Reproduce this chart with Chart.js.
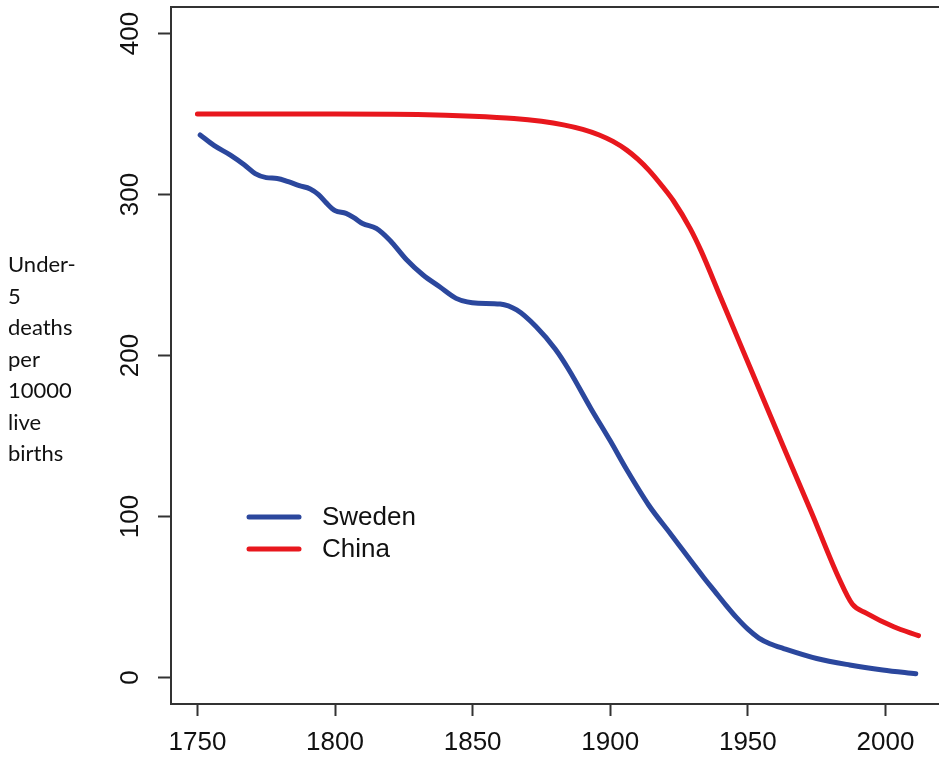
<!DOCTYPE html>
<html>
<head>
<meta charset="utf-8">
<script src="https://cdn.jsdelivr.net/npm/chart.js@4.4.1/dist/chart.umd.min.js"></script>
<style>
  html, body { margin: 0; padding: 0; background: #fff; overflow: hidden; }
  #wrap { width: 939px; height: 757px; overflow: hidden; position: relative; }
  canvas { display: block; }
</style>
</head>
<body>
<div id="wrap"><canvas id="c" width="960" height="757"></canvas></div>
<script>
// ---- data ----
const swedenYears = [1751,1756,1762,1767,1771,1775,1779,1783,1787,1791,1794,1797,1800,1804,1807,1810,1815,1820,1826,1832,1838,1844,1848,1852,1860,1866,1873,1880,1885,1893,1900,1906,1914,1922,1934,1938,1942,1946,1950,1954,1958,1963,1975,1987,1999,2011];
const swedenValues = [337,330.5,324.5,318.5,313,310.5,310,308,305.5,303.5,300,294.5,290,288.3,285.5,282,279,271.5,259.5,250,242.7,235.5,233.3,232.5,232,228.3,218,204,191,167,147,129,107,89,62,53.5,45,37,30,24.5,21,18,11.8,7.8,4.7,2.3];

const chinaYears = [1750,1800,1830,1850,1865,1875,1883,1890,1896,1901,1906,1910,1914,1919,1923,1929,1933,1940,1947,1956,1963,1973,1983,1988,1993,2003,2012];
const chinaValues = [350,350,349.7,348.7,347.3,345.5,343.3,340.5,337,333,327.6,322,315.2,305,296,279,265,236.5,208,171.5,143,103,62,45.5,40,31.5,26];

const xTicks = [1750,1800,1850,1900,1950,2000];
const yTicks = [0,100,200,300,400];
const seriesNames = ['Sweden','China'];
const yAxisLabelLines = ['Under-','5','deaths','per','10000','live','births'];

const BLUE = '#2b479d';
const RED = '#e8171d';
const AXIS = '#333333';

const toPoints = (xs, ys) => xs.map((x, i) => ({x: x, y: ys[i]}));

const framePlugin = {
  id: 'frame',
  afterDatasetsDraw(chart) {
    const {ctx, chartArea: a} = chart;
    ctx.save();
    ctx.strokeStyle = AXIS;
    ctx.lineWidth = 2;
    ctx.strokeRect(a.left, a.top, a.right - a.left, a.bottom - a.top);
    ctx.restore();
  }
};

const legendPlugin = {
  id: 'insideLegend',
  afterDraw(chart) {
    const ctx = chart.ctx;
    ctx.save();
    const rows = [517, 549];
    chart.data.datasets.forEach((ds, i) => {
      const y = rows[i];
      ctx.strokeStyle = ds.borderColor;
      ctx.lineWidth = 5;
      ctx.lineCap = 'round';
      ctx.beginPath();
      ctx.moveTo(249, y);
      ctx.lineTo(299, y);
      ctx.stroke();
      ctx.fillStyle = '#111';
      ctx.font = '26px "Liberation Sans", Arial, sans-serif';
      ctx.textBaseline = 'middle';
      ctx.textAlign = 'left';
      ctx.fillText(ds.label, 322, y + 1);
    });
    ctx.restore();
  }
};

const yTitlePlugin = {
  id: 'yTitle',
  afterDraw(chart) {
    const ctx = chart.ctx;
    ctx.save();
    ctx.fillStyle = '#111';
    ctx.font = '22px Lato, "Open Sans", sans-serif';
    ctx.textBaseline = 'alphabetic';
    ctx.textAlign = 'left';
    yAxisLabelLines.forEach((t, i) => {
      ctx.fillText(t, 8, 272 + i * 31.5);
    });
    ctx.restore();
  }
};

new Chart(document.getElementById('c'), {
  type: 'line',
  data: {
    datasets: [
      {
        label: seriesNames[0],
        data: toPoints(swedenYears, swedenValues),
        borderColor: BLUE,
        backgroundColor: BLUE,
        borderWidth: 5,
        pointRadius: 0,
        cubicInterpolationMode: 'monotone',
        borderCapStyle: 'round',
        borderJoinStyle: 'round',
        fill: false
      },
      {
        label: seriesNames[1],
        data: toPoints(chinaYears, chinaValues),
        borderColor: RED,
        backgroundColor: RED,
        borderWidth: 5,
        pointRadius: 0,
        cubicInterpolationMode: 'monotone',
        borderCapStyle: 'round',
        borderJoinStyle: 'round',
        fill: false
      }
    ]
  },
  options: {
    responsive: false,
    animation: false,
    devicePixelRatio: 1,
    layout: { padding: { top: 7, right: 17, left: 0, bottom: 0 } },
    plugins: {
      legend: { display: false },
      tooltip: { enabled: false },
      title: { display: false }
    },
    scales: {
      x: {
        type: 'linear',
        min: 1740.4,
        max: 2020.9,
        afterBuildTicks: (axis) => { axis.ticks = xTicks.map(v => ({value: v})); },
        afterFit: (axis) => { axis.height = 53; axis.paddingLeft = 0; axis.paddingRight = 0; },
        grid: { display: true, drawOnChartArea: false, drawTicks: true, tickLength: 12, tickColor: AXIS, tickWidth: 2 },
        border: { display: false },
        ticks: {
          autoSkip: false,
          maxRotation: 0,
          padding: 11,
          color: '#111',
          font: { family: '"Liberation Sans", Arial, sans-serif', size: 26 },
          callback: (v) => String(v)
        }
      },
      y: {
        type: 'linear',
        min: -16.46,
        max: 416.5,
        afterBuildTicks: (axis) => { axis.ticks = yTicks.map(v => ({value: v})); },
        afterFit: (axis) => { axis.width = 171; axis.paddingTop = 0; axis.paddingBottom = 0; },
        grid: { display: true, drawOnChartArea: false, drawTicks: true, tickLength: 13, tickColor: AXIS, tickWidth: 2 },
        border: { display: false },
        ticks: {
          autoSkip: false,
          minRotation: 90,
          maxRotation: 90,
          crossAlign: 'center',
          padding: 5,
          color: '#111',
          font: { family: '"Liberation Sans", Arial, sans-serif', size: 26 },
          callback: (v) => String(v)
        }
      }
    }
  },
  plugins: [framePlugin, legendPlugin, yTitlePlugin]
});
</script>
</body>
</html>
